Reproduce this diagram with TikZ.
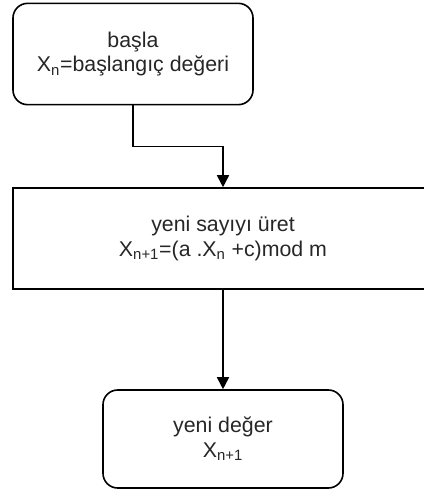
\documentclass[tikz,border=0pt]{standalone}
\usepackage{fontspec}
\setmainfont{Liberation Sans}
\usetikzlibrary{arrows.meta}

\begin{document}
\begin{tikzpicture}[x=0.75pt,y=-0.75pt,
	line width=1.2pt,
	every node/.style={font=\fontsize{16}{18.5}\selectfont,text=black!85},
	start node/.style={draw,rounded corners=11pt,align=center,minimum width=180pt,minimum height=76pt,inner sep=0pt},
	work node/.style={draw,align=center,minimum width=315pt,minimum height=75.75pt,inner sep=0pt},
	flow/.style={-{Triangle[length=9pt,width=9pt]}}
]
	\useasboundingbox (0,0) rectangle (424,490);

	\node[start node] (basla) at (133,54) {başla\\X\textsubscript{n}=başlangıç değeri};
	\node[work node] (uret) at (223,238.5) {yeni sayıyı üret\\X\textsubscript{n+1}=(a .X\textsubscript{n} +c)mod m};
	\node[start node,minimum height=73.5pt] (yeni) at (223,439) {yeni değer\\X\textsubscript{n+1}};

	\draw[flow] (basla.south) -- ++(0,41) -| (uret.north);
	\draw[flow] (uret.south) -- (yeni.north);
\end{tikzpicture}
\end{document}
